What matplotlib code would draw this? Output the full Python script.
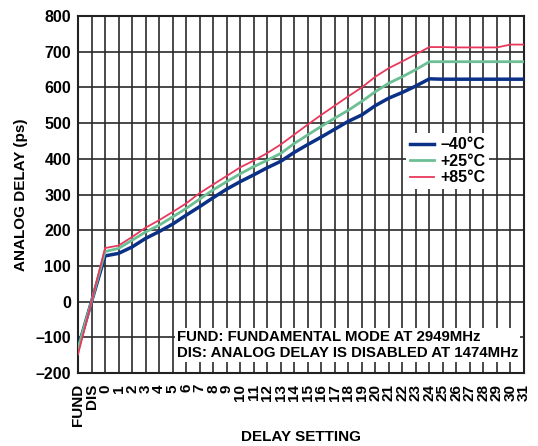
import matplotlib
matplotlib.use('Agg')
import matplotlib.pyplot as plt

plt.rcParams['font.family'] = ['Liberation Sans', 'DejaVu Sans']
plt.rcParams['font.weight'] = 'bold'

settings = ['FUND', 'DIS'] + [str(i) for i in range(32)]

delay_m40 = [-130, 0, 128, 135, 153, 177, 196, 217, 242, 266, 291, 315, 336, 355,
             375, 393, 418, 440, 461, 483, 505, 523, 549, 570, 586, 604, 624,
             623, 623, 623, 623, 623, 623, 623]
delay_p25 = [-130, 0, 140, 149, 172, 195, 214, 237, 261, 287, 313, 336, 358, 378,
             396, 415, 443, 467, 491, 514, 536, 561, 588, 612, 630, 650, 672,
             672, 672, 672, 672, 672, 672, 672]
delay_p85 = [-148, 0, 150, 157, 181, 207, 228, 251, 275, 304, 328, 352, 376, 395,
             416, 440, 468, 496, 523, 549, 575, 600, 630, 654, 673, 693, 713,
             713, 712, 712, 712, 712, 720, 720]

y_ticks = list(range(-200, 801, 100))

fig = plt.figure(figsize=(5.38, 4.46), dpi=100)
ax = fig.add_axes([0.145, 0.1637, 0.829, 0.8004])

x = list(range(len(settings)))
ax.plot(x, delay_m40, color='#0b3187', lw=2.5, label='\u201340\u00b0C', zorder=4)
ax.plot(x, delay_p25, color='#6cbf94', lw=2.0, label='+25\u00b0C', zorder=4)
ax.plot(x, delay_p85, color='#e8395c', lw=1.3, label='+85\u00b0C', zorder=4)

ax.set_xlim(0, len(settings) - 1)
ax.set_ylim(-200, 800)
ax.set_xticks(x)
ax.set_xticklabels(settings, rotation=90, fontsize=11, fontweight='bold')
ax.set_yticks(y_ticks)
ax.set_yticklabels([('\u2013' + str(-v)) if v < 0 else str(v) for v in y_ticks],
                   fontsize=11.5, fontweight='bold')
ax.tick_params(axis='x', length=0, pad=8)
ax.tick_params(axis='y', length=0, pad=5)
ax.grid(True, color='#2a2a2a', lw=1.2, zorder=1)
ax.set_axisbelow(True)
for s in ax.spines.values():
    s.set_linewidth(1.5)
    s.set_color('#222222')

ax.set_xlabel('DELAY SETTING', fontsize=11, fontweight='bold', va='center')
ax.xaxis.set_label_coords(0.5, -0.18)
ax.set_ylabel('ANALOG DELAY (ps)', fontsize=11, fontweight='bold', va='center')
ax.yaxis.set_label_coords(-0.128, 0.5)

leg = ax.legend(loc='upper left', bbox_to_anchor=(0.735, 0.672), frameon=True,
                fontsize=11.5, handlelength=1.5, handletextpad=0.4,
                labelspacing=0.1, borderpad=0.25, borderaxespad=0)
leg.get_frame().set_edgecolor('none')
leg.get_frame().set_facecolor('white')
leg.get_frame().set_alpha(1)
leg.set_zorder(5)

ax.text(0.222, -121, 'FUND: FUNDAMENTAL MODE AT 2949MHz\nDIS: ANALOG DELAY IS DISABLED AT 1474MHz',
        transform=ax.get_yaxis_transform(), fontsize=10.8, fontweight='bold',
        va='center', ha='left', linespacing=1.15, zorder=5,
        bbox=dict(facecolor='white', edgecolor='none', pad=1.5))

fig.savefig('out.png', dpi=100)
